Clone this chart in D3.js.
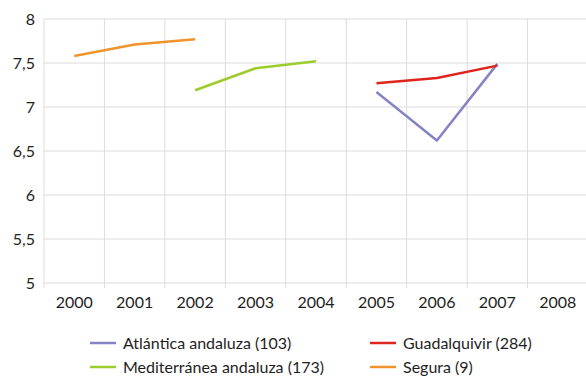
<!DOCTYPE html>
<html><head><meta charset="utf-8">
<script src="https://cdn.jsdelivr.net/npm/d3@7"></script>
<style>body{margin:0;background:#fff}svg{display:block}text{font-family:Lato,"Open Sans",sans-serif;fill:#1e1e1e}</style>
</head><body><svg id="c" width="586" height="383"></svg>
<script>
const years = ["2000","2001","2002","2003","2004","2005","2006","2007","2008"];
const yTicks = [5,5.5,6,6.5,7,7.5,8];
const seriesNames = ["Atlántica andaluza (103)","Guadalquivir (284)","Mediterránea andaluza (173)","Segura (9)"];
const seriesColors = ["#8484c4","#e0241c","#9ccc2c","#f0942a"];
const atlantica = [null,null,null,null,null,7.17,6.62,7.49,null];
const guadalquivir = [null,null,null,null,null,7.27,7.33,7.47,null];
const mediterranea = [null,null,7.19,7.44,7.52,null,null,null,null];
const segura = [7.58,7.71,7.77,null,null,null,null,null,null];
const seriesValues = [atlantica, guadalquivir, mediterranea, segura];

const svg = d3.select("#c");
const x = d3.scaleBand().domain(years).range([44, 588]);
const y = d3.scaleLinear().domain([5, 8]).range([283, 19]);

// grid
svg.append("g").selectAll("line").data(yTicks).join("line")
  .attr("x1", 44).attr("x2", 588).attr("y1", d => y(d)).attr("y2", d => y(d))
  .attr("stroke", "#dcdcdc").attr("stroke-width", 1);
const vlines = years.map((d, i) => x(d)).concat([x.range()[1]]);
svg.append("g").selectAll("line").data(vlines).join("line")
  .attr("x1", d => d).attr("x2", d => d).attr("y1", 19).attr("y2", 288)
  .attr("stroke", "#dcdcdc").attr("stroke-width", 1);

// y labels
const fmt = d => String(d).replace(".", ",");
svg.append("g").selectAll("text").data(yTicks).join("text")
  .attr("x", 35).attr("y", d => y(d)).attr("dy", "0.35em")
  .attr("text-anchor", "end").attr("font-size", 16).text(fmt);

// x labels
svg.append("g").selectAll("text").data(years).join("text")
  .attr("x", d => x(d) + x.bandwidth() / 2).attr("y", 302).attr("dy", "0.35em")
  .attr("text-anchor", "middle").attr("font-size", 16).text(d => d);

// lines
const line = d3.line().defined(d => d.v != null)
  .x(d => x(d.k) + x.bandwidth() / 2).y(d => y(d.v));
seriesValues.forEach((vals, i) => {
  svg.append("path").datum(years.map((k, j) => ({k, v: vals[j]})))
    .attr("fill", "none").attr("stroke", seriesColors[i]).attr("stroke-width", 2.5)
    .attr("stroke-linejoin", "round").attr("d", line);
});

// legend
const legPos = [[90,343],[370,343],[90,367],[370,367]];
seriesNames.forEach((n, i) => {
  const [lx, ly] = legPos[i];
  svg.append("line").attr("x1", lx).attr("x2", lx + 26).attr("y1", ly).attr("y2", ly)
    .attr("stroke", seriesColors[i]).attr("stroke-width", 2.5);
  svg.append("text").attr("x", lx + 33).attr("y", ly).attr("dy", "0.35em")
    .attr("font-size", 16).text(n);
});
</script></body></html>
